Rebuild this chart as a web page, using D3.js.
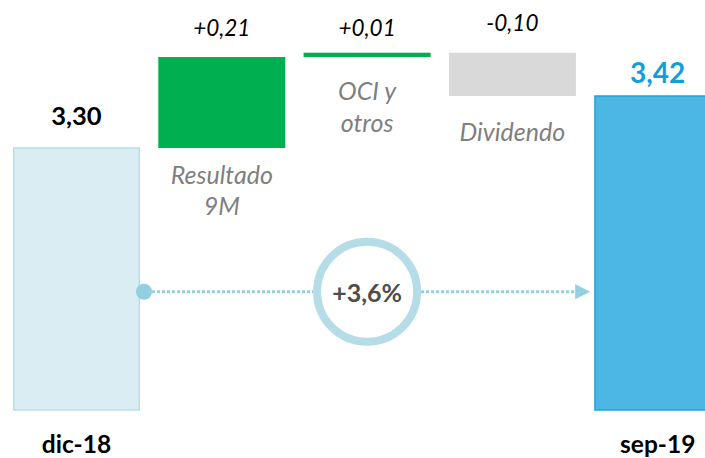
<!DOCTYPE html>
<html>
<head>
<meta charset="utf-8">
<script src="https://cdn.jsdelivr.net/npm/d3@7/dist/d3.min.js"></script>
<style>
  html, body { margin: 0; padding: 0; background: #ffffff; }
  svg { display: block; font-family: Lato, "Open Sans", sans-serif; }
</style>
</head>
<body>
<svg id="chart" width="705" height="458"></svg>
<script>
// Equity per share bridge, dic-18 → sep-19
const categories = ["dic-18", "Resultado 9M", "OCI y otros", "Dividendo", "sep-19"];
const startValue = 3.30;
const deltas = [0.21, 0.01, -0.10];
const endValue = 3.42;
const valueLabels = ["3,30", "+0,21", "+0,01", "-0,10", "3,42"];
const catLines = [["dic-18"], ["Resultado", "9M"], ["OCI y", "otros"], ["Dividendo"], ["sep-19"]];
const changeLabel = "+3,6%";
const yDomain = [2.695, 3.52];
const arrowLevel = 2.968;

// Build the floating segments of the waterfall
const bars = [];
bars.push({ cat: categories[0], y0: yDomain[0], y1: startValue, kind: "start" });
let run = startValue;
deltas.forEach((d, i) => {
  const next = run + d;
  bars.push({ cat: categories[i + 1], y0: Math.min(run, next), y1: Math.max(run, next), kind: d >= 0 ? "up" : "down" });
  run = next;
});
bars.push({ cat: categories[4], y0: yDomain[0], y1: endValue, kind: "end" });

const svg = d3.select("#chart");

const x = d3.scaleBand().domain(categories).range([13, 721.2]).paddingInner(0.126).paddingOuter(0);
const y = d3.scaleLinear().domain(yDomain).range([410, 52.7]);

const fills = { start: "#daedf3", up: "#00b050", down: "#d9d9d9", end: "#4db7e3" };
const strokes = { start: "#b6dfeb", up: "none", down: "none", end: "#22a2da" };

svg.append("g").selectAll("rect").data(bars).join("rect")
  .attr("x", d => x(d.cat) + (strokes[d.kind] === "none" ? 0 : 0.75))
  .attr("y", d => y(d.y1))
  .attr("width", d => x.bandwidth() - (strokes[d.kind] === "none" ? 0 : 1.5))
  .attr("height", d => y(d.y0) - y(d.y1))
  .attr("fill", d => fills[d.kind])
  .attr("stroke", d => strokes[d.kind])
  .attr("stroke-width", 1.5);

const cx = c => x(c) + x.bandwidth() / 2;

// Value labels
const valTop = [
  { dy: -23, size: 25.5, weight: 700, style: "normal", color: "#000000" },
  { dy: -21, size: 22.5, weight: 400, style: "italic", color: "#000000" },
  { dy: -17, size: 22.5, weight: 400, style: "italic", color: "#000000" },
  { dy: -22, size: 22.5, weight: 400, style: "italic", color: "#000000" },
  { dy: -13, size: 28, weight: 700, style: "normal", color: "#129fd8" }
];
svg.append("g").selectAll("text").data(bars).join("text")
  .attr("x", d => cx(d.cat))
  .attr("y", (d, i) => y(d.y1) + valTop[i].dy)
  .attr("text-anchor", "middle")
  .attr("font-size", (d, i) => valTop[i].size)
  .attr("font-weight", (d, i) => valTop[i].weight)
  .attr("font-style", (d, i) => valTop[i].style)
  .attr("fill", (d, i) => valTop[i].color)
  .text((d, i) => valueLabels[i]);

// Italic step names under the floating bars
const stepGap = [null, 36, 43, 45, null];
[1, 2, 3].forEach(i => {
  const b = bars[i];
  const t = svg.append("text")
    .attr("x", cx(b.cat))
    .attr("y", y(b.y0) + stepGap[i])
    .attr("text-anchor", "middle")
    .attr("font-size", 25)
    .attr("font-style", "italic")
    .attr("fill", "#7f7f7f");
  catLines[i].forEach((line, k) => {
    t.append("tspan").attr("x", cx(b.cat)).attr("dy", k === 0 ? 0 : 31.5).text(line);
  });
});

// Period labels along the base
[0, 4].forEach(i => {
  svg.append("text")
    .attr("x", cx(categories[i]))
    .attr("y", 453)
    .attr("text-anchor", "middle")
    .attr("font-size", 24.5)
    .attr("font-weight", 700)
    .attr("fill", "#000000")
    .text(catLines[i][0]);
});

// Growth connector with ring badge
const ly = y(arrowLevel);
const ringX = cx(categories[2]);
const ringR = 50;
const lineColor = "#93cfe0";
const xStart = x(categories[0]) + x.bandwidth() + 4;
const xTip = x(categories[4]) - 4;

svg.append("line")
  .attr("x1", xStart + 8).attr("x2", ringX - ringR - 4)
  .attr("y1", ly).attr("y2", ly)
  .attr("stroke", lineColor).attr("stroke-width", 3).attr("stroke-dasharray", "3 2");
svg.append("line")
  .attr("x1", ringX + ringR + 4).attr("x2", xTip - 14)
  .attr("y1", ly).attr("y2", ly)
  .attr("stroke", lineColor).attr("stroke-width", 3).attr("stroke-dasharray", "3 2");
svg.append("circle")
  .attr("cx", xStart).attr("cy", ly).attr("r", 8).attr("fill", lineColor);
svg.append("path")
  .attr("d", `M${xTip - 15},${ly - 7.5} L${xTip},${ly} L${xTip - 15},${ly + 7.5} Z`)
  .attr("fill", lineColor);
svg.append("circle")
  .attr("cx", ringX).attr("cy", ly).attr("r", ringR)
  .attr("fill", "#ffffff").attr("stroke", "#b5dde8").attr("stroke-width", 8);
svg.append("text")
  .attr("x", ringX).attr("y", ly + 10)
  .attr("text-anchor", "middle")
  .attr("font-size", 25).attr("font-weight", 700)
  .attr("fill", "#4d4d4d")
  .text(changeLabel);
</script>
</body>
</html>
